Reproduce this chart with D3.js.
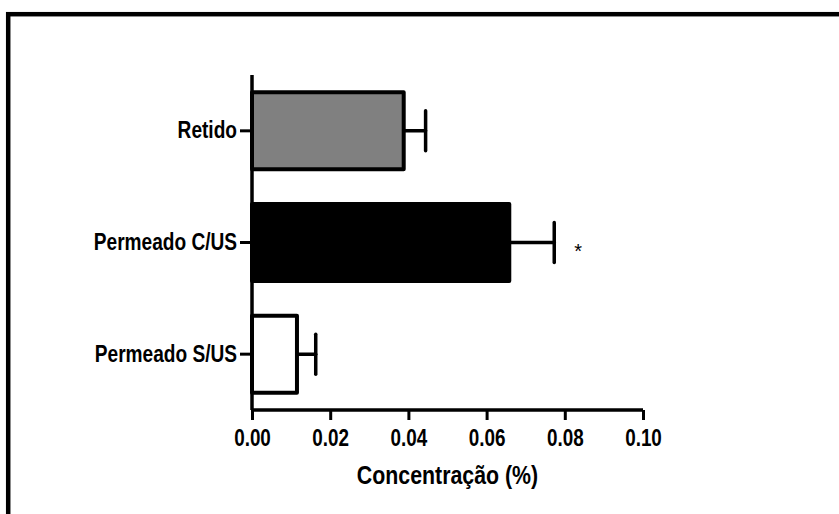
<!DOCTYPE html>
<html>
<head>
<meta charset="utf-8">
<script src="https://cdn.jsdelivr.net/npm/d3@7"></script>
<style>
  body { margin: 0; background: #fff; }
  svg text { font-family: "Liberation Sans", Arial, sans-serif; font-weight: bold; fill: #000; }
</style>
</head>
<body>
<div id="chart"></div>
<script>
// Concentration by sample group (horizontal bars with SEM)

const categories = ["Retido", "Permeado C/US", "Permeado S/US"];
const means = [0.0388, 0.0658, 0.0115];
const errors = [0.0056, 0.0115, 0.0048];
const fills = ["#808080", "#000000", "#ffffff"];
const marks = ["", "*", ""];
const xTicks = [0, 0.02, 0.04, 0.06, 0.08, 0.10];

const W = 839, H = 514;
const margin = {top: 75, right: 196, bottom: 104, left: 252};

const svg = d3.select("#chart").append("svg")
    .attr("width", W)
    .attr("height", H);

// squeeze text horizontally to mimic a narrow bold face
function narrow(sel, k) {
    sel.each(function() {
        const len = this.getComputedTextLength();
        if (len > 0) {
            d3.select(this)
                .attr("textLength", len * k)
                .attr("lengthAdjust", "spacingAndGlyphs");
        }
    });
}

// outer frame (runs off the right and bottom edges)
svg.append("rect")
    .attr("x", 8.2)
    .attr("y", 14.2)
    .attr("width", W + 20)
    .attr("height", H + 20)
    .attr("fill", "none")
    .attr("stroke", "#000")
    .attr("stroke-width", 4.5);

const x = d3.scaleLinear()
    .domain([0, 0.10])
    .range([margin.left, W - margin.right]);

const y = d3.scaleBand()
    .domain(categories)
    .range([margin.top, H - margin.bottom])
    .paddingInner(0.31)
    .paddingOuter(0.155);

const y0 = H - margin.bottom;

// bars
svg.selectAll(".bar")
    .data(categories)
    .enter()
    .append("rect")
    .attr("class", "bar")
    .attr("x", x(0))
    .attr("y", d => y(d))
    .attr("width", (d, i) => x(means[i]) - x(0))
    .attr("height", y.bandwidth())
    .attr("fill", (d, i) => fills[i])
    .attr("stroke", "#000")
    .attr("stroke-width", 4)
    .attr("stroke-linejoin", "round");

// error bars
const err = svg.selectAll(".err")
    .data(categories)
    .enter()
    .append("g")
    .attr("class", "err")
    .attr("stroke", "#000")
    .attr("stroke-width", 3.5)
    .attr("stroke-linecap", "round");

err.append("line")
    .attr("x1", (d, i) => x(means[i]))
    .attr("x2", (d, i) => x(means[i] + errors[i]))
    .attr("y1", d => y(d) + y.bandwidth() / 2)
    .attr("y2", d => y(d) + y.bandwidth() / 2);

err.append("line")
    .attr("x1", (d, i) => x(means[i] + errors[i]))
    .attr("x2", (d, i) => x(means[i] + errors[i]))
    .attr("y1", d => y(d) + y.bandwidth() / 2 - 20)
    .attr("y2", d => y(d) + y.bandwidth() / 2 + 20);

// significance marks
svg.selectAll(".mark")
    .data(categories)
    .enter()
    .append("text")
    .attr("class", "mark")
    .attr("x", (d, i) => x(means[i] + errors[i]) + 24)
    .attr("y", d => y(d) + y.bandwidth() / 2 + 15)
    .attr("text-anchor", "middle")
    .style("font-size", "20px")
    .style("font-weight", "normal")
    .text((d, i) => marks[i]);

// x axis
const xAxis = svg.append("g")
    .attr("transform", `translate(0,${y0})`)
    .call(d3.axisBottom(x).tickValues(xTicks).tickFormat(d3.format(".2f")).tickSize(10).tickPadding(10));

xAxis.select(".domain")
    .attr("stroke-width", 3.5)
    .attr("d", `M${x(0)},0H${x(0.10)}`);
xAxis.selectAll(".tick line").attr("stroke-width", 3);
xAxis.selectAll(".tick text")
    .style("font-size", "23px")
    .style("font-family", null)
    .call(narrow, 0.82);

// y axis
const yAxis = svg.append("g")
    .attr("transform", `translate(${x(0)},0)`)
    .call(d3.axisLeft(y).tickSize(12).tickPadding(3));

yAxis.select(".domain")
    .attr("stroke-width", 3.5)
    .attr("d", `M0,${margin.top}V${y0}`);
yAxis.selectAll(".tick line").attr("stroke-width", 3);
yAxis.selectAll(".tick text")
    .style("font-size", "23px")
    .style("font-family", null)
    .call(narrow, 0.83);

// x axis title
svg.append("text")
    .attr("x", (x(0) + x(0.10)) / 2)
    .attr("y", 484)
    .attr("text-anchor", "middle")
    .style("font-size", "26px")
    .text("Concentração (%)")
    .call(narrow, 0.82);
</script>
</body>
</html>
